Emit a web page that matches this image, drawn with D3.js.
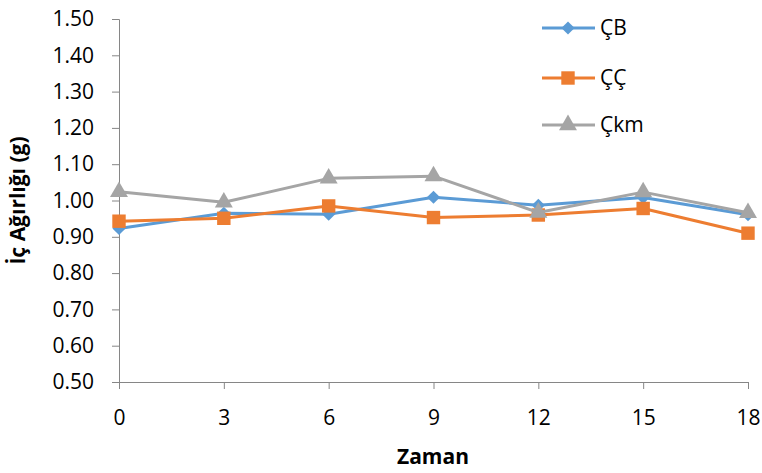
<!DOCTYPE html>
<html>
<head>
<meta charset="utf-8">
<script src="https://cdn.jsdelivr.net/npm/d3@7"></script>
<style>
  html, body { margin: 0; padding: 0; background: #fff; }
  svg { display: block; font-family: "Open Sans", "Liberation Sans", sans-serif; }
</style>
</head>
<body>
<svg id="chart" width="762" height="473"></svg>
<script>
// Time points (x axis) and measured inner weight per group
const times = [0, 3, 6, 9, 12, 15, 18];
const seriesNames = ["ÇB", "ÇÇ", "Çkm"];
const valuesCB  = [0.923, 0.965, 0.962, 1.009, 0.987, 1.008, 0.961];
const valuesCC  = [0.943, 0.951, 0.985, 0.953, 0.960, 0.978, 0.910];
const valuesCkm = [1.024, 0.995, 1.061, 1.067, 0.967, 1.023, 0.966];
const yTicks = [0.50, 0.60, 0.70, 0.80, 0.90, 1.00, 1.10, 1.20, 1.30, 1.40, 1.50];
const xTitle = "Zaman";
const yTitle = "İç Ağırlığı (g)";

const colors = ["#5B9BD5", "#ED7D31", "#A5A5A5"];
const symbols = [d3.symbolDiamond2, d3.symbolSquare, d3.symbolTriangle];
const symbolSizes = [110, 180, 140];
const seriesValues = [valuesCB, valuesCC, valuesCkm];

const svg = d3.select("#chart");
const plot = { left: 119, right: 748, top: 19, bottom: 382 };

const x = d3.scaleLinear().domain([0, 18]).range([plot.left, plot.right]);
const y = d3.scaleLinear().domain([0.5, 1.5]).range([plot.bottom, plot.top]);

const axisColor = "#868686";
const labelSize = 21;

// Y axis
const yAxis = svg.append("g")
  .attr("transform", `translate(${plot.left},0)`)
  .call(d3.axisLeft(y).tickValues(yTicks).tickFormat(d3.format(".2f")).tickSizeOuter(0).tickSize(7).tickPadding(18));
yAxis.select(".domain").attr("stroke", axisColor).attr("stroke-width", 1);
yAxis.selectAll(".tick line").attr("stroke", axisColor);
yAxis.selectAll(".tick text").attr("font-size", labelSize).attr("fill", "#000")
  .attr("font-family", "'Open Sans', sans-serif");

// X axis
const xAxis = svg.append("g")
  .attr("transform", `translate(0,${plot.bottom})`)
  .call(d3.axisBottom(x).tickValues(times).tickFormat(d3.format("d")).tickSizeOuter(0).tickSize(7).tickPadding(21));
xAxis.select(".domain").attr("stroke", axisColor).attr("stroke-width", 1);
xAxis.selectAll(".tick line").attr("stroke", axisColor);
xAxis.selectAll(".tick text").attr("font-size", labelSize).attr("fill", "#000")
  .attr("font-family", "'Open Sans', sans-serif");

// Axis titles
svg.append("text")
  .attr("x", 433)
  .attr("y", 464)
  .attr("text-anchor", "middle")
  .attr("font-size", 21)
  .attr("font-weight", "bold")
  .text(xTitle);

svg.append("text")
  .attr("transform", `translate(25,${(plot.top + plot.bottom) / 2}) rotate(-90)`)
  .attr("text-anchor", "middle")
  .attr("font-size", 21)
  .attr("font-weight", "bold")
  .text(yTitle);

// Series lines and markers
const line = d3.line().x((d, i) => x(times[i])).y(d => y(d));
seriesValues.forEach((vals, s) => {
  const g = svg.append("g");
  g.append("path")
    .datum(vals)
    .attr("fill", "none")
    .attr("stroke", colors[s])
    .attr("stroke-width", 3)
    .attr("stroke-linejoin", "round")
    .attr("d", line);
  g.selectAll("path.marker")
    .data(vals)
    .join("path")
    .attr("class", "marker")
    .attr("transform", (d, i) => `translate(${x(times[i])},${y(d)})`)
    .attr("d", d3.symbol().type(symbols[s]).size(symbolSizes[s]))
    .attr("fill", colors[s]);
});

// Legend
const legend = svg.append("g");
const legendRows = [28, 78, 125];
seriesNames.forEach((name, s) => {
  const g = legend.append("g").attr("transform", `translate(0,${legendRows[s]})`);
  g.append("line").attr("x1", 542).attr("x2", 595).attr("y1", 0).attr("y2", 0)
    .attr("stroke", colors[s]).attr("stroke-width", 3);
  g.append("path")
    .attr("transform", "translate(568,0)")
    .attr("d", d3.symbol().type(symbols[s]).size(symbolSizes[s]))
    .attr("fill", colors[s]);
  g.append("text").attr("x", 600).attr("y", 7)
    .attr("font-size", 21).attr("fill", "#000")
    .text(name);
});
</script>
</body>
</html>
